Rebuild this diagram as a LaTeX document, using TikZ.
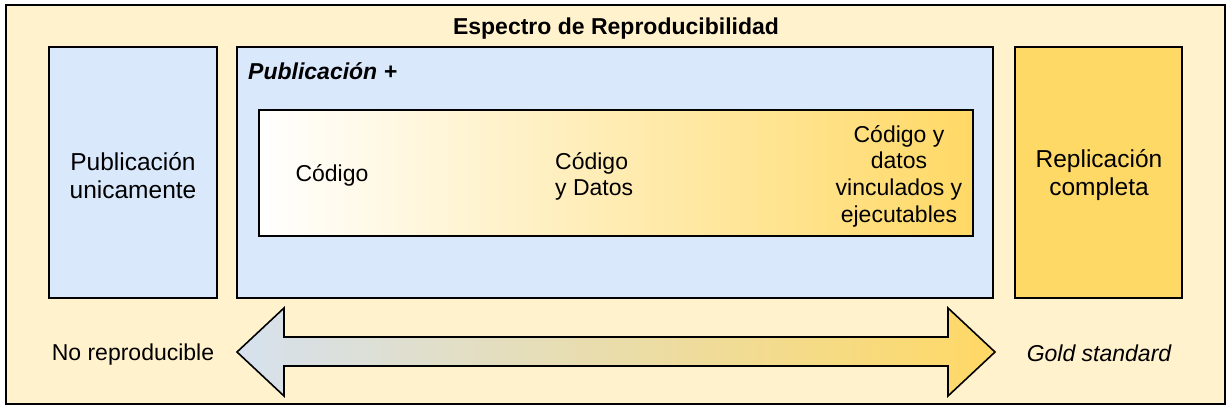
\documentclass[tikz,border=0pt]{standalone}
\usepackage{fontspec}
\setmainfont{Liberation Sans}
\usetikzlibrary{positioning}
\definecolor{myframe}{HTML}{FFF2CC}
\definecolor{mylightblue}{HTML}{DAE8FC}
\definecolor{mygold}{HTML}{FFD966}
\definecolor{myarrowblue}{RGB}{214,225,238}
\newcommand{\txtsize}{\fontsize{23}{26.7}\selectfont}
\newcommand{\boxsize}{\fontsize{24.5}{28}\selectfont}
\tikzset{
    common/.style={draw, rectangle, line width=1.6pt, inner sep=0pt},
    stage/.style={common, minimum height=251pt, align=center, font=\boxsize},
    label/.style={font=\txtsize, inner sep=0pt}
}
\begin{document}
\begin{tikzpicture}[x=1pt, y=-1pt]
    \useasboundingbox[fill=white] (0,0) rectangle (1232,412);

    \node[common, fill=myframe, minimum width=1219pt, minimum height=399pt] (frame) at (615.5,204.5) {};
    \node[label, font=\txtsize\bfseries] (title) at (616,29) {Espectro de Reproducibilidad};

    \node[common, fill=mylightblue, minimum width=168pt, minimum height=251pt] (pub) at (133,172.5) {};
    \node[common, fill=mylightblue, minimum width=756pt, minimum height=251pt] (plus) at (615,172.5) {};
    \node[common, fill=mygold, minimum width=167pt, minimum height=251pt] (repl) at (1098.5,172.5) {};
    \node[label, font=\boxsize, align=center] (publabel) at (133,175.5) {Publicación\\unicamente};
    \node[label, font=\boxsize, align=center] (repllabel) at (1099,175.5) {Replicación\\completa};

    \node[label, font=\txtsize\bfseries\itshape, anchor=west] (plustitle) at (248,71) {Publicación +};
    \node[common, left color=white, right color=mygold, minimum width=714pt, minimum height=126pt] (inner) at (616,173) {};

    \node[label] (code) at (332,175) {Código};
    \node[label, align=left, anchor=west] (codedata) at (555,176.5) {Código\\y Datos};
    \node[label, align=center] (linked) at (899,176) {Código y\\datos\\vinculados y\\ejecutables};

    % spectrum arrow
    \shade[left color=myarrowblue, right color=mygold, draw, line width=1.6pt, line join=miter]
        (237,352) -- (284,308) -- (284,337) -- (948,337) -- (948,308) -- (995,352)
        -- (948,396) -- (948,366) -- (284,366) -- (284,396) -- cycle;

    \node[label] (noreprod) at (133,354.5) {No reproducible};
    \node[label, font=\txtsize\itshape] (gold) at (1099,353) {Gold standard};
\end{tikzpicture}
\end{document}
